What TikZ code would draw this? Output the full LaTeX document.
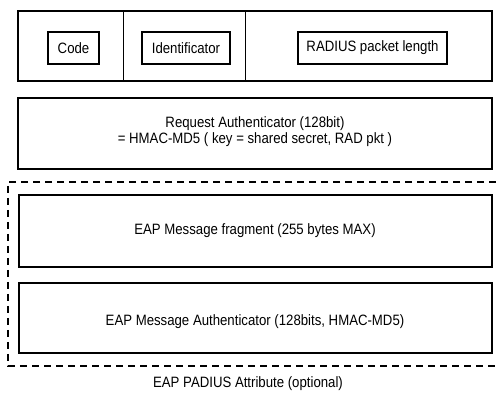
\documentclass[tikz,border=0pt]{standalone}
\usepackage{fontspec}
\setmainfont{Liberation Sans}[FakeStretch=0.88]
\begin{document}
\begin{tikzpicture}[x=1pt,y=-1pt,
  field/.style={draw=black,line width=1.3pt},
  subfield/.style={draw=black,line width=1.1pt,minimum height=32pt,inner sep=0pt},
  optgroup/.style={draw=black,line width=2pt,dash pattern=on 7pt off 5pt},
  lbl/.style={font=\fontsize{15}{16}\selectfont,align=center,inner sep=0pt}]
  \useasboundingbox (0,0) rectangle (496,395);
  % header word: code, identifier, length
  \draw[field] (18,11) rectangle (492,81);
  \draw[line width=1pt] (123,11) -- (123,81);
  \draw[line width=1pt] (245,11) -- (245,81);
  \node[subfield,lbl,minimum width=51pt] (code) at (73.5,48) {Code};
  \node[subfield,lbl,minimum width=88pt] (ident) at (186,48) {Identificator};
  \node[subfield,lbl,minimum width=149pt] (len) at (372.5,48) {RADIUS packet length};
  % authenticator
  \draw[field] (18,98) rectangle (492,169);
  \node[lbl] (reqauth) at (255,132) {Request Authenticator (128bit)\\= HMAC-MD5 ( key = shared secret, RAD pkt )};
  % optional EAP attribute group
  \draw[optgroup] (496,182) -- (8,182) -- (8,366) -- (496,366);
  \draw[field] (19,195) rectangle (492,267);
  \node[lbl] (frag) at (255,231) {EAP Message fragment (255 bytes MAX)};
  \draw[field] (19,283) rectangle (492,353);
  \node[lbl] (eapauth) at (255,322) {EAP Message Authenticator (128bits, HMAC-MD5)};
  \node[lbl] (attr) at (248,384) {EAP PADIUS Attribute (optional)};
\end{tikzpicture}
\end{document}
